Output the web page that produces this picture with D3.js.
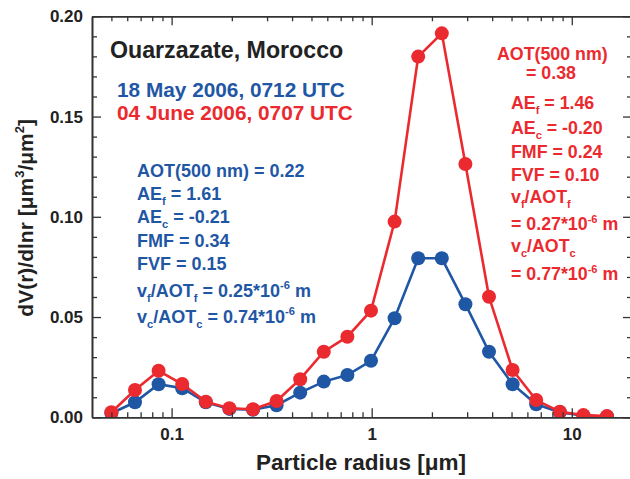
<!DOCTYPE html>
<html>
<head>
<meta charset="utf-8">
<script src="https://cdn.jsdelivr.net/npm/d3@7"></script>
<style>
  html, body { margin: 0; padding: 0; background: #fff; }
  svg { display: block; font-family: "Liberation Sans", Arial, Helvetica, sans-serif; font-weight: bold; }
</style>
</head>
<body>
<svg id="chart" width="630" height="479"></svg>
<script>
// ---- data ----
const radii = [0.05, 0.065604, 0.086077, 0.112939, 0.148184, 0.194429, 0.255105, 0.334716,
  0.439173, 0.576227, 0.756052, 0.991996, 1.301571, 1.707757, 2.240702, 2.939966,
  3.857452, 5.06126, 6.640745, 8.713145, 11.432287, 15.0];
const may18 = [0.002, 0.0075, 0.0165, 0.0145, 0.0075, 0.0042, 0.0038, 0.006,
  0.0123, 0.0178, 0.0211, 0.0282, 0.0494, 0.0793, 0.0793, 0.0564,
  0.0327, 0.0165, 0.0065, 0.0025, 0.0008, 0.0004];
const june04 = [0.0025, 0.0136, 0.0232, 0.0166, 0.0078, 0.0045, 0.004, 0.0081,
  0.019, 0.0327, 0.0402, 0.0532, 0.0976, 0.1799, 0.1915, 0.1263,
  0.0601, 0.0236, 0.0086, 0.0028, 0.0011, 0.0006];
const xMajorTicks = [0.1, 1, 10];
const xMajorLabels = ["0.1", "1", "10"];
const xMinorTicks = [0.05, 0.06, 0.07, 0.08, 0.09, 0.2, 0.3, 0.4, 0.5, 0.6, 0.7, 0.8, 0.9,
  2, 3, 4, 5, 6, 7, 8, 9, 20];
const yMajorTicks = [0, 0.05, 0.10, 0.15, 0.20];
const yMajorLabels = ["0.00", "0.05", "0.10", "0.15", "0.20"];
const yMinorTicks = [0.01, 0.02, 0.03, 0.04, 0.06, 0.07, 0.08, 0.09, 0.11, 0.12, 0.13, 0.14,
  0.16, 0.17, 0.18, 0.19];

const BLUE = "#1f57a5";
const RED = "#eb2a30";
const AXIS = "#333";

const svg = d3.select("#chart");
const L = 92, R = 632, T = 16.3, B = 417.3;
const x = d3.scaleLog().domain([0.04, 20]).range([L, R]);
const y = d3.scaleLinear().domain([0, 0.2]).range([B, T]);

// clip
svg.append("defs").append("clipPath").attr("id", "plotclip")
  .append("rect").attr("x", L).attr("y", T).attr("width", R - L).attr("height", B - T);

// ---- series ----
const plot = svg.append("g").attr("clip-path", "url(#plotclip)");
const line = d3.line().x((d, i) => x(radii[i])).y(d => y(d));
[[may18, BLUE], [june04, RED]].forEach(([vals, col]) => {
  plot.append("path").datum(vals).attr("d", line)
    .attr("fill", "none").attr("stroke", col).attr("stroke-width", 2.6);
  plot.selectAll(null).data(vals).enter().append("circle")
    .attr("cx", (d, i) => x(radii[i])).attr("cy", d => y(d)).attr("r", 7)
    .attr("fill", col);
});

// ---- axes ----
function styleAxis(g) {
  g.selectAll("path.domain").attr("stroke", AXIS).attr("stroke-width", 1.6);
  g.selectAll(".tick line").attr("stroke", AXIS).attr("stroke-width", 1.3);
  g.selectAll(".tick text").attr("fill", "#222").attr("font-size", 17)
    .attr("font-family", "'Liberation Sans', Arial, sans-serif").attr("font-weight", "bold");
}
// bottom
svg.append("g").attr("transform", `translate(0,${B})`)
  .call(d3.axisBottom(x).tickValues(xMinorTicks).tickSizeInner(-5).tickSizeOuter(0).tickFormat(""))
  .call(styleAxis);
svg.append("g").attr("transform", `translate(0,${B})`)
  .call(d3.axisBottom(x).tickValues(xMajorTicks).tickSizeInner(-9).tickSizeOuter(0).tickPadding(11)
    .tickFormat((d, i) => xMajorLabels[i]))
  .call(styleAxis);
// top
svg.append("g").attr("transform", `translate(0,${T})`)
  .call(d3.axisTop(x).tickValues(xMinorTicks).tickSizeInner(-5).tickSizeOuter(0).tickFormat(""))
  .call(styleAxis);
svg.append("g").attr("transform", `translate(0,${T})`)
  .call(d3.axisTop(x).tickValues(xMajorTicks).tickSizeInner(-9).tickSizeOuter(0).tickFormat(""))
  .call(styleAxis);
// left
svg.append("g").attr("transform", `translate(${L},0)`)
  .call(d3.axisLeft(y).tickValues(yMinorTicks).tickSizeInner(-5).tickSizeOuter(0).tickFormat(""))
  .call(styleAxis);
svg.append("g").attr("transform", `translate(${L},0)`)
  .call(d3.axisLeft(y).tickValues(yMajorTicks).tickSizeInner(-9).tickSizeOuter(0).tickPadding(9)
    .tickFormat((d, i) => yMajorLabels[i]))
  .call(styleAxis);
// right
svg.append("g").attr("transform", `translate(${R},0)`)
  .call(d3.axisRight(y).tickValues(yMinorTicks).tickSizeInner(-5).tickSizeOuter(0).tickFormat(""))
  .call(styleAxis);
svg.append("g").attr("transform", `translate(${R},0)`)
  .call(d3.axisRight(y).tickValues(yMajorTicks).tickSizeInner(-9).tickSizeOuter(0).tickFormat(""))
  .call(styleAxis);

// ---- rich text helper ----
// segments: array of [text, mode] where mode: "" | "sub" | "sup"
function rich(parent, xPos, yPos, segs, size, color, anchor) {
  const t = parent.append("text").attr("x", xPos).attr("y", yPos)
    .attr("font-size", size).attr("fill", color).attr("text-anchor", anchor || "start");
  let cur = 0;
  segs.forEach(s => {
    const [txt, mode] = Array.isArray(s) ? s : [s, ""];
    let target = 0, fs = size;
    if (mode === "sub") { target = size * 0.3; fs = size * 0.62; }
    if (mode === "sup") { target = -size * 0.42; fs = size * 0.62; }
    t.append("tspan").attr("dy", target - cur).attr("font-size", fs).text(txt);
    cur = target;
  });
  return t;
}

// axis titles
rich(svg, (L + R) / 2 - 1, 470, ["Particle radius [\u03bcm]"], 22.5, "#222", "middle");
const yl = svg.append("g").attr("transform", `translate(33,${(T + B) / 2 + 1}) rotate(-90)`);
rich(yl, 0, 0, ["dV(r)/dlnr [\u03bcm", ["3", "sup"], "/\u03bcm", ["2", "sup"], ["]", ""]], 21, "#222", "middle");

// headings
rich(svg, 110, 58, ["Ouarzazate, Morocco"], 23.2, "#222");
rich(svg, 117, 97, ["18 May 2006, 0712 UTC"], 20.8, BLUE);
rich(svg, 117, 120, ["04 June 2006, 0707 UTC"], 20.8, RED);

// blue block
const bx = 137, fsb = 18;
rich(svg, bx, 177, ["AOT(500 nm) = 0.22"], fsb, BLUE);
rich(svg, bx, 200, ["AE", ["f", "sub"], [" = 1.61", ""]], fsb, BLUE);
rich(svg, bx, 223, ["AE", ["c", "sub"], [" = -0.21", ""]], fsb, BLUE);
rich(svg, bx, 247, ["FMF = 0.34"], fsb, BLUE);
rich(svg, bx, 270, ["FVF = 0.15"], fsb, BLUE);
rich(svg, bx, 297, ["v", ["f", "sub"], ["/AOT", ""], ["f", "sub"], [" = 0.25*10", ""], ["-6", "sup"], [" m", ""]], fsb, BLUE);
rich(svg, bx, 323, ["v", ["c", "sub"], ["/AOT", ""], ["c", "sub"], [" = 0.74*10", ""], ["-6", "sup"], [" m", ""]], fsb, BLUE);

// red block
const rx = 511, fsr = 17.8;
rich(svg, 497, 60, ["AOT(500 nm)"], fsr, RED);
rich(svg, 526, 79, ["= 0.38"], fsr, RED);
rich(svg, rx, 109, ["AE", ["f", "sub"], [" = 1.46", ""]], fsr, RED);
rich(svg, rx, 134, ["AE", ["c", "sub"], [" = -0.20", ""]], fsr, RED);
rich(svg, rx, 158, ["FMF = 0.24"], fsr, RED);
rich(svg, rx, 181, ["FVF = 0.10"], fsr, RED);
rich(svg, rx, 203, ["v", ["f", "sub"], ["/AOT", ""], ["f", "sub"]], fsr, RED);
rich(svg, rx, 230, ["= 0.27*10", ["-6", "sup"], [" m", ""]], fsr, RED);
rich(svg, rx, 252, ["v", ["c", "sub"], ["/AOT", ""], ["c", "sub"]], fsr, RED);
rich(svg, rx, 280, ["= 0.77*10", ["-6", "sup"], [" m", ""]], fsr, RED);
</script>
</body>
</html>
